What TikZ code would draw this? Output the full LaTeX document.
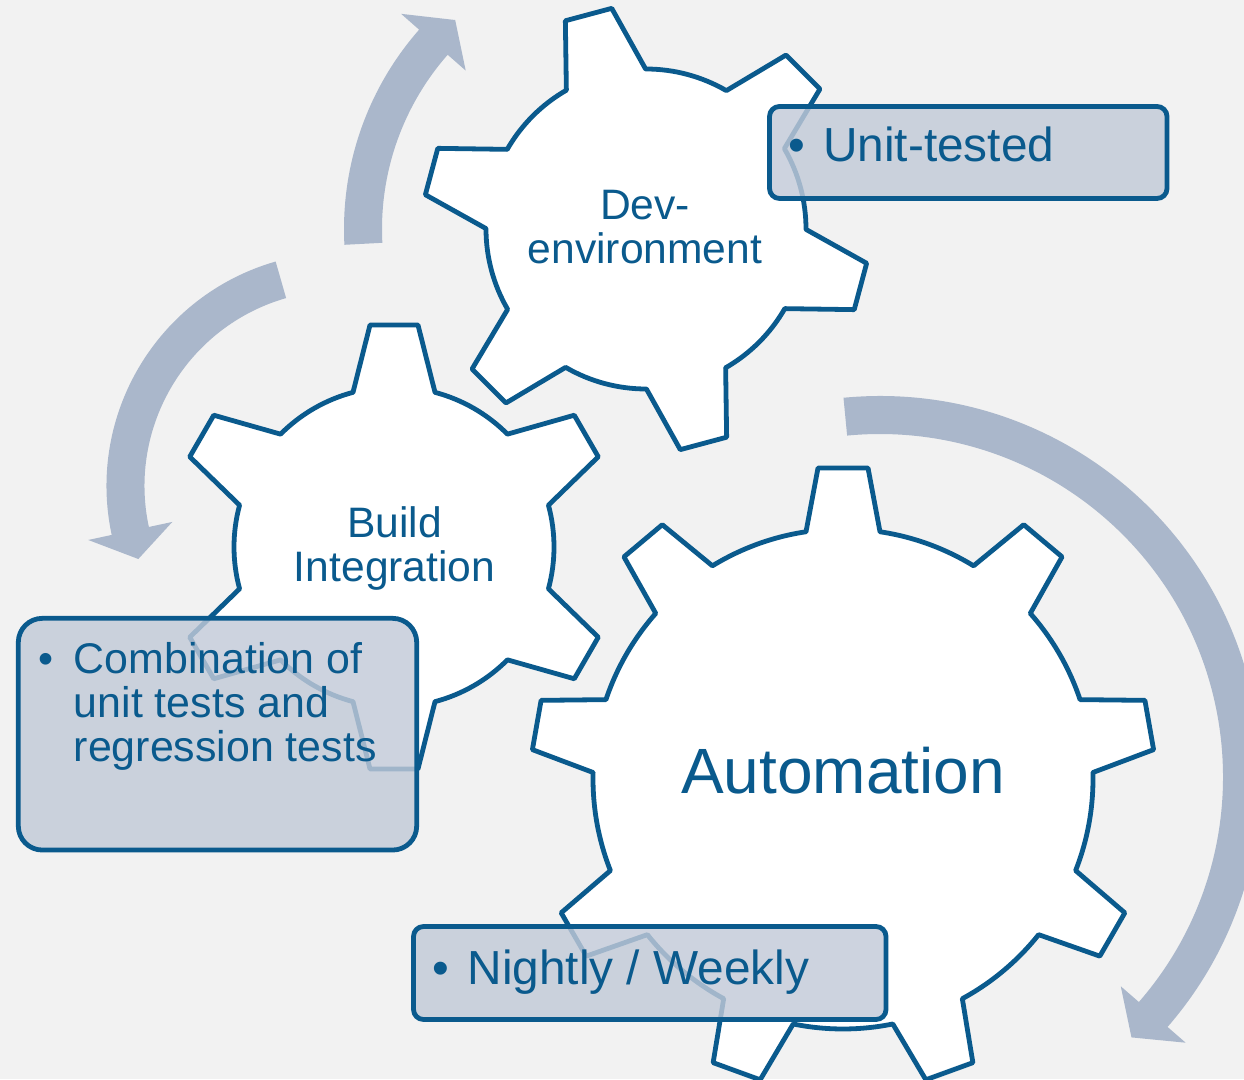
\documentclass[tikz,border=0pt]{standalone}
\usepackage{fontspec}
\setmainfont{Liberation Sans}
\definecolor{bgc}{HTML}{F2F2F2}
\definecolor{dblue}{HTML}{0A5A8D}
\definecolor{arrowc}{HTML}{AAB7CB}
\definecolor{boxc}{RGB}{194,202,216}

% gear: cx, cy, teeth, first tooth angle, body radius, base half-angle, tip radius, tip half-angle
\newcommand\drawgear[8]{%
  \pgfmathsetmacro\gs{360/#3}%
  \pgfmathtruncatemacro\gn{#3-1}%
  \draw[gearline, shift={(#1,#2)}] ({#4-#6}:#5)
    \foreach \k in {0,...,\gn}{
      -- ({#4+\k*\gs-#8}:#7) -- ({#4+\k*\gs+#8}:#7) -- ({#4+\k*\gs+#6}:#5)
      arc[start angle={#4+\k*\gs+#6}, end angle={#4+(\k+1)*\gs-#6}, radius=#5]
    } -- cycle;
}
% cycle arrow: cx, cy, mid radius, tail angle, head base angle, tip angle
\newcommand\cyclearrowpath[6]{%
  \fill[arrowc, shift={(#1,#2)}] ({#4}:{#3+19})
    arc[start angle={#4}, end angle={#5}, radius={#3+19}]
    -- ({#5}:{#3+43}) -- ({#6}:{#3}) -- ({#5}:{#3-43}) -- ({#5}:{#3-19})
    arc[start angle={#5}, end angle={#4}, radius={#3-19}] -- cycle;
}

\begin{document}
\begin{tikzpicture}[x=1pt,y=1pt,
  gearline/.style={draw=dblue, line width=4.8pt, fill=white, line join=round},
  callout/.style={rectangle, draw=dblue, line width=4.8pt, fill=boxc, fill opacity=0.82, draw opacity=1, inner sep=0pt},
  gearlabel/.style={text=dblue, inner sep=0pt, anchor=base},
  bullettext/.style={text=dblue, inner sep=0pt, anchor=base west},
]
\useasboundingbox (0,0) rectangle (1244,1079);
\clip (0,0) rectangle (1244,1079);
\fill[bgc] (0,0) rectangle (1244,1079);

% circular arrows
\cyclearrowpath{646}{850}{283}{183}{138.7}{132.4}
\cyclearrowpath{340}{593}{214.5}{106}{192.1}{199.9}
\cyclearrowpath{880}{302}{362}{95.5}{-41}{-46}

% gears
\drawgear{646}{850}{6}{105}{160}{14.85}{223.3}{6.17}
\drawgear{394}{532}{6}{90}{160}{14.85}{223.3}{6.17}
\drawgear{843}{300}{9}{90}{250}{8.51}{312}{4.6}

% gear labels
\node[gearlabel, font=\fontsize{42.6}{44}\selectfont] (devlabel) at (645,859.3)
  {\begin{tabular}[t]{@{}c@{}}Dev-\\environment\end{tabular}};
\node[gearlabel, font=\fontsize{42.6}{44}\selectfont] (buildlabel) at (394.6,541.3)
  {\begin{tabular}[t]{@{}c@{}}Build\\Integration\end{tabular}};
\node[gearlabel, font=\fontsize{64}{70}\selectfont] (autolabel) at (843,285) {Automation};

% callout boxes
\node[callout, rounded corners=10pt, minimum width=397.5pt, minimum height=92pt] (unitbox) at (968.25,926.5) {};
\node[callout, rounded corners=24pt, minimum width=398.4pt, minimum height=231.7pt] (combobox) at (217.5,344.8) {};
\node[callout, rounded corners=10pt, minimum width=472.5pt, minimum height=93pt] (nightlybox) at (649.75,106) {};

% callout texts
\node[bullettext, font=\fontsize{47.8}{50}\selectfont] (unittext) at (788.5,917.3) {•\hspace{17.8pt}Unit-tested};
\node[bullettext, font=\fontsize{47.8}{50}\selectfont] (nightlytext) at (432,95) {•\hspace{18.6pt}Nightly / Weekly};
\node[bullettext, font=\fontsize{42.9}{44}\selectfont] (combotext) at (38.6,405.7)
  {\begin{tabular}[t]{@{}l@{\hspace{20pt}}l@{}}•&Combination of\\&unit tests and\\&regression tests\end{tabular}};
\end{tikzpicture}
\end{document}
